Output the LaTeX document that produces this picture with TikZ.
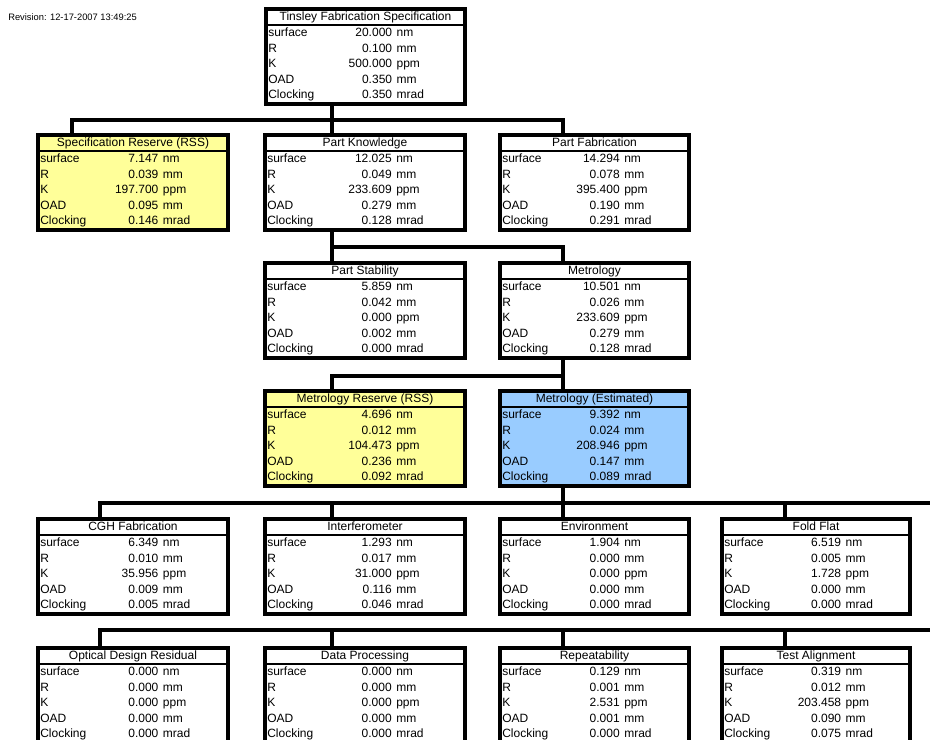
\documentclass[tikz,border=0pt]{standalone}
\usepackage{fontspec}
\setmainfont{Liberation Sans}
\usetikzlibrary{calc}

\definecolor{reservefill}{RGB}{255,255,153}
\definecolor{estfill}{RGB}{153,204,255}

\tikzset{
  tolframe/.style={rectangle, draw=black, line width=3pt, inner sep=0pt, outer sep=0pt, anchor=north west},
  link/.style={draw=black, line width=3pt},
  titlerule/.style={draw=black, line width=1.4pt},
  cell/.style={inner sep=0pt, font=\fontsize{9}{11}\selectfont, text height=6.6pt, text depth=1.9pt}
}

% \tolbox{name}{left}{top}{width}{fill}{title}{values}
\newcommand{\tolbox}[7]{%
  \node[tolframe, fill=#5, minimum width=#4*0.75pt, minimum height=95*0.75pt] (#1) at (#2,#3) {};
  \draw[titlerule] ($(#1.north west)+(0,16)$) -- ($(#1.north east)+(0,16)$);
  \node[cell] (#1-title) at ($(#1.north)+(0,8.5)$) {#6};
  \foreach \tval [count=\i] in {#7} {
    \node[cell, anchor=west] (#1-lab\i) at ($(#1.north west)+(2,9+15.5*\i)$)
      {\ifcase\i\or surface\or R\or K\or OAD\or Clocking\fi};
    \node[cell, anchor=east] (#1-val\i) at ($(#1.north west)+(0.635*#4,9+15.5*\i)$) {\tval};
    \node[cell, anchor=west] (#1-unit\i) at ($(#1.north west)+(0.635*#4+4,9+15.5*\i)$)
      {\ifcase\i\or nm\or mm\or ppm\or mm\or mrad\fi};
  }
}

\begin{document}
\begin{tikzpicture}[x=0.75pt,y=0.75pt,yscale=-1,xscale=1]
\useasboundingbox (0,0) rectangle (930,739);
\clip (0,0) rectangle (930,739);

\node[cell, anchor=west, font=\fontsize{7}{8}\selectfont] (revision) at (8,17) {Revision: 12-17-2007 13:49:25};

\tolbox{top}{266}{9}{199}{white}{Tinsley Fabrication Specification}{20.000,0.100,500.000,0.350,0.350}

\tolbox{specres}{38}{135}{190}{reservefill}{Specification Reserve (RSS)}{7.147,0.039,197.700,0.095,0.146}
\tolbox{partknow}{265}{135}{200}{white}{Part Knowledge}{12.025,0.049,233.609,0.279,0.128}
\tolbox{partfab}{500}{135}{189}{white}{Part Fabrication}{14.294,0.078,395.400,0.190,0.291}

\tolbox{partstab}{265}{263}{200}{white}{Part Stability}{5.859,0.042,0.000,0.002,0.000}
\tolbox{metro}{500}{263}{189}{white}{Metrology}{10.501,0.026,233.609,0.279,0.128}

\tolbox{metrores}{265}{391}{200}{reservefill}{Metrology Reserve (RSS)}{4.696,0.012,104.473,0.236,0.092}
\tolbox{metroest}{500}{391}{189}{estfill}{Metrology (Estimated)}{9.392,0.024,208.946,0.147,0.089}

\tolbox{cgh}{38}{519}{190}{white}{CGH Fabrication}{6.349,0.010,35.956,0.009,0.005}
\tolbox{interf}{265}{519}{200}{white}{Interferometer}{1.293,0.017,31.000,0.116,0.046}
\tolbox{envir}{500}{519}{189}{white}{Environment}{1.904,0.000,0.000,0.000,0.000}
\tolbox{foldflat}{722}{519}{188}{white}{Fold Flat}{6.519,0.005,1.728,0.000,0.000}

\tolbox{odres}{38}{648}{190}{white}{Optical Design Residual}{0.000,0.000,0.000,0.000,0.000}
\tolbox{dataproc}{265}{648}{200}{white}{Data Processing}{0.000,0.000,0.000,0.000,0.000}
\tolbox{repeat}{500}{648}{189}{white}{Repeatability}{0.129,0.001,2.531,0.001,0.000}
\tolbox{testalign}{722}{648}{188}{white}{Test Alignment}{0.319,0.012,203.458,0.090,0.075}

\coordinate (a1) at (72,120);
\coordinate (b1) at (332,120);
\coordinate (c1) at (563,120);
\coordinate (b2) at (332,247);
\coordinate (c2) at (563,247);
\coordinate (b3) at (332,376);
\coordinate (c3) at (563,376);
\coordinate (a4) at (100,503);
\coordinate (b4) at (332,503);
\coordinate (c4) at (563,503);
\coordinate (d4) at (785,503);
\coordinate (e4) at (940,503);
\coordinate (a5) at (100,630);
\coordinate (b5) at (332,630);
\coordinate (c5) at (563,630);
\coordinate (d5) at (785,630);
\coordinate (e5) at (940,630);

\draw[link] (top.south -| b1) -- (b1);
\draw[link] (specres.north -| a1) |- (c1) -- (partfab.north -| c1);
\draw[link] (b1) -- (partknow.north -| b1);
\draw[link] (partknow.south -| b2) |- (c2) -- (metro.north -| c2);
\draw[link] (b2) -- (partstab.north -| b2);
\draw[link] (metro.south -| c3) |- (b3) -- (metrores.north -| b3);
\draw[link] (c3) -- (metroest.north -| c3);
\draw[link] (metroest.south -| c4) -- (c4);
\draw[link] (cgh.north -| a4) |- (e4);
\foreach \n/\j in {interf/b4, envir/c4, foldflat/d4}
  \draw[link] (\j) -- (\n.north -| \j);
\draw[link] (odres.north -| a5) |- (e5);
\foreach \n/\j in {dataproc/b5, repeat/c5, testalign/d5}
  \draw[link] (\j) -- (\n.north -| \j);
\end{tikzpicture}
\end{document}
